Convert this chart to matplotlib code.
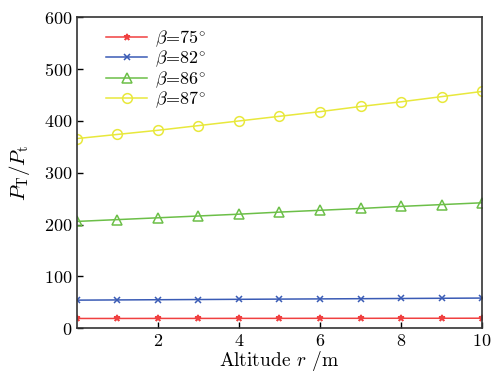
import matplotlib
matplotlib.use("Agg")
import matplotlib.pyplot as plt
import numpy as np

plt.rcParams['font.family'] = ['cmr10', 'DejaVu Serif']
plt.rcParams['mathtext.fontset'] = 'cm'
plt.rcParams['axes.formatter.use_mathtext'] = True
plt.rcParams['axes.unicode_minus'] = False

altitude = [0, 1, 2, 3, 4, 5, 6, 7, 8, 9, 10]
p_75 = [18.6, 18.6, 18.7, 18.7, 18.8, 18.8, 18.9, 18.9, 19.0, 19.0, 19.1]
p_82 = [54, 54.4, 54.8, 55.2, 55.6, 56, 56.4, 56.8, 57.2, 57.6, 58]
p_86 = [206, 209.5, 213, 216.5, 220, 224, 227.5, 231, 235, 238.5, 242]
p_87 = [366, 374, 382, 391, 400, 409, 418, 428, 437, 447, 457]

labels = [r'$\beta$=75$^{\circ}$', r'$\beta$=82$^{\circ}$',
          r'$\beta$=86$^{\circ}$', r'$\beta$=87$^{\circ}$']
colors = ['#f04040', '#3a5bb5', '#6cbf48', '#e8e83c']
markers = ['*', 'x', '^', 'o']

fig = plt.figure(figsize=(4.96, 3.78), dpi=100)
ax = fig.add_axes([0.155, 0.132, 0.817, 0.822])

for ys, lab, c, m in zip([p_75, p_82, p_86, p_87], labels, colors, markers):
    if m in ('^', 'o'):
        ax.plot(altitude, ys, color=c, marker=m, markersize=7, markerfacecolor='none',
                markeredgecolor=c, markeredgewidth=1.1, linewidth=1.1, label=lab)
    else:
        ax.plot(altitude, ys, color=c, marker=m, markersize=5, markeredgewidth=1.1,
                linewidth=1.1, label=lab)

ax.set_xlim(0, 10)
ax.set_ylim(0, 600)
ax.set_xticks([2, 4, 6, 8, 10])
ax.set_yticks([0, 100, 200, 300, 400, 500, 600])
ax.tick_params(direction='in', labelsize=13, length=4, width=1)
for s in ax.spines.values():
    s.set_linewidth(1.2)
    s.set_color('#333333')

ax.set_xlabel(r'Altitude $r$ /m', fontsize=14, labelpad=0)
ax.set_ylabel(r'$P_{\mathrm{T}}/P_{\mathrm{t}}$', fontsize=15, labelpad=8)

ax.legend(loc='upper left', frameon=False, fontsize=13, handlelength=2.3,
          borderaxespad=0.2, labelspacing=0.0, bbox_to_anchor=(0.045, 1.0),
          handletextpad=0.4)

fig.savefig('out.png', dpi=100)
